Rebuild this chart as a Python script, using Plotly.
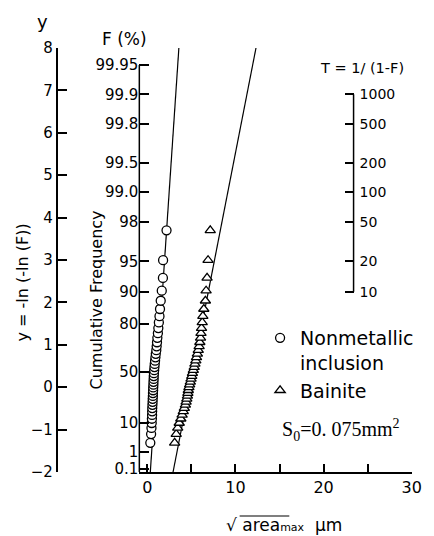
import numpy as np
import plotly.graph_objects as go

# ---------------- data ----------------
# cumulative frequency F (%) of each ranked point (same ranks for both series)
cum_freq_pct = [2.44, 4.88, 7.32, 9.76, 12.20, 14.63, 17.07, 19.51, 21.95, 24.39,
                26.83, 29.27, 31.71, 34.15, 36.59, 39.02, 41.46, 43.90, 46.34, 48.78,
                51.22, 53.66, 56.10, 58.54, 60.98, 63.41, 65.85, 68.29, 70.73, 73.17,
                75.61, 78.05, 80.49, 82.93, 85.37, 87.80, 90.24, 92.68, 95.12, 97.56]

# sqrt(area_max) in micrometres
inclusion_sqrt_area = [0.34, 0.43, 0.47, 0.50, 0.52, 0.54, 0.55, 0.56, 0.58, 0.60,
                       0.61, 0.63, 0.64, 0.66, 0.67, 0.69, 0.70, 0.72, 0.73, 0.75,
                       0.78, 0.81, 0.84, 0.88, 0.92, 0.96, 1.02, 1.06, 1.10, 1.14,
                       1.20, 1.25, 1.31, 1.38, 1.44, 1.52, 1.64, 1.77, 1.79, 2.18]
bainite_sqrt_area = [3.10, 3.28, 3.45, 3.62, 3.80, 3.95, 4.08, 4.20, 4.32, 4.40,
                     4.48, 4.55, 4.60, 4.65, 4.72, 4.80, 4.88, 4.96, 5.04, 5.12,
                     5.22, 5.32, 5.40, 5.50, 5.58, 5.68, 5.78, 5.88, 5.96, 6.04,
                     6.09, 6.15, 6.23, 6.30, 6.41, 6.59, 6.67, 6.78, 6.89, 7.14]

# fitted straight lines: x at reduced variate y = -2 and y = 8
fit_y_ends = [-2, 8]
inclusion_fit_x = [0.34, 3.58]
bainite_fit_x = [2.92, 12.33]

# axis ticks
y_ticks = [-2, -1, 0, 1, 2, 3, 4, 5, 6, 7, 8]
F_ticks_pct = [0.1, 1, 10, 50, 80, 90, 95, 98, 99.0, 99.5, 99.8, 99.9, 99.95]
F_tick_labels = ["0.1", "1", "10", "50", "80", "90", "95", "98", "99.0", "99.5",
                 "99.8", "99.9", "99.95"]
T_ticks = [10, 20, 50, 100, 200, 500, 1000]
T_tick_labels = ["10", "20", "50", "100", "200", "500", "1000"]
x_ticks = [0, 10, 20, 30]
x_minor_ticks = [5, 15, 25]


def gumbel(F):
    F = np.asarray(F, dtype=float)
    return -np.log(-np.log(F))


y_incl = gumbel(np.array(cum_freq_pct) / 100.0)
y_F_ticks = gumbel(np.array(F_ticks_pct) / 100.0)
y_T_ticks = gumbel(1.0 - 1.0 / np.array(T_ticks, dtype=float))

# ---------------- layout geometry ----------------
# the page body adds an 8 px margin, so the figure is drawn 8 px smaller
OFF = 8
W, H = 434 - OFF, 536 - OFF
PLOT_L, PLOT_R, PLOT_T, PLOT_B = 40, 422, 48, 472   # in window pixels
ML, MR = PLOT_L - OFF, W - (PLOT_R - OFF)
MT, MB = PLOT_T - OFF, H - (PLOT_B - OFF)
PW = PLOT_R - PLOT_L
PH = PLOT_B - PLOT_T


def px(xpix):
    return (xpix - PLOT_L) / PW


def py(ypix):
    return (PLOT_B - ypix) / PH


x_dom0 = px(142)
FONT = "DejaVu Sans"
BLK = "black"

fig = go.Figure()

fig.add_trace(go.Scatter(
    x=inclusion_fit_x, y=fit_y_ends, mode="lines",
    line=dict(color=BLK, width=1.2), showlegend=False, hoverinfo="skip"))
fig.add_trace(go.Scatter(
    x=bainite_fit_x, y=fit_y_ends, mode="lines",
    line=dict(color=BLK, width=1.2), showlegend=False, hoverinfo="skip"))

fig.add_trace(go.Scatter(
    x=inclusion_sqrt_area, y=y_incl, mode="markers", name="Nonmetallic<br>inclusion",
    marker=dict(symbol="circle", size=9, color="white",
                line=dict(color=BLK, width=1.3))))
fig.add_trace(go.Scatter(
    x=bainite_sqrt_area, y=y_incl, mode="markers", name="Bainite",
    marker=dict(symbol="triangle-up", size=9, color="white",
                line=dict(color=BLK, width=1.3))))

# empty traces so the extra axes are drawn
fig.add_trace(go.Scatter(x=[], y=[], yaxis="y2", showlegend=False, hoverinfo="skip"))
fig.add_trace(go.Scatter(x=[], y=[], yaxis="y3", showlegend=False, hoverinfo="skip"))

axis_common = dict(range=[-2, 8], showgrid=False, zeroline=False,
                   ticks="inside", tickcolor=BLK, tickwidth=1.5, fixedrange=True)

fig.update_layout(
    width=W, height=H,
    margin=dict(l=ML, r=MR, t=MT, b=MB),
    paper_bgcolor="white", plot_bgcolor="white",
    font=dict(family=FONT, color=BLK),
    xaxis=dict(domain=[x_dom0, 1], range=[-0.906, 30.03], showgrid=False, zeroline=False,
               showline=True, linecolor=BLK, linewidth=1.5,
               tickvals=x_ticks, ticks="inside", ticklen=8, tickwidth=1.5, tickcolor=BLK,
               tickfont=dict(size=16, family=FONT),
               minor=dict(tickvals=x_minor_ticks, ticks="inside", ticklen=8,
                          tickwidth=1.5, tickcolor=BLK),
               fixedrange=True),
    yaxis=dict(**axis_common, anchor="x", showline=False,
               tickvals=list(y_F_ticks), ticktext=F_tick_labels, ticklen=10,
               tickfont=dict(size=15, family=FONT)),
    yaxis2=dict(**axis_common, overlaying="y", anchor="free", position=px(57),
                side="left", showline=True, linecolor=BLK, linewidth=1.5,
                tickvals=y_ticks, ticklen=10, tickfont=dict(size=15, family=FONT)),
    yaxis3=dict(**axis_common, overlaying="y", anchor="free", position=px(362),
                side="right", showline=False,
                tickvals=list(y_T_ticks), ticktext=T_tick_labels, ticklen=9,
                ticklabelstandoff=5,
                tickfont=dict(size=14, family=FONT)),
    legend=dict(x=px(266), y=py(319), xanchor="left", yanchor="top",
                bgcolor="rgba(0,0,0,0)", font=dict(size=19, family=FONT),
                valign="top", itemwidth=30, tracegroupgap=4),
    showlegend=True,
)

# partial axis lines for the F and T scales
fig.add_shape(type="line", xref="paper", yref="y", x0=x_dom0, x1=x_dom0,
              y0=-2, y1=float(y_F_ticks[-1]), line=dict(color=BLK, width=1.5))
fig.add_shape(type="line", xref="paper", yref="y", x0=px(362), x1=px(362),
              y0=float(y_T_ticks[0]), y1=float(y_T_ticks[-1]), line=dict(color=BLK, width=1.5))

# overline of the square-root sign in the x title
fig.add_shape(type="line", xref="paper", yref="paper", x0=px(245), x1=px(296),
              y0=py(516), y1=py(516), line=dict(color=BLK, width=1.2))

ann = [
    dict(text="y", x=px(43), y=py(22), font=dict(size=18)),
    dict(text="F (%)", x=px(127), y=py(39), font=dict(size=17)),
    dict(text="T = 1/ (1-F)", x=px(371), y=py(68), font=dict(size=14.5)),
    dict(text="y = -ln (-ln (F))", x=px(22), y=py(282), textangle=-90, font=dict(size=16)),
    dict(text="Cumulative Frequency", x=px(97), y=py(300), textangle=-90, font=dict(size=16)),
    dict(text="S<sub>0</sub>=0. 075mm<sup>2</sup>", x=px(286), y=py(430), xanchor="left",
         font=dict(size=20, family="Liberation Serif")),
    dict(text="\u221a area<span style='font-size:11px'>max</span>  \u03bcm",
         x=px(291), y=py(525), font=dict(size=17)),
]
for a in ann:
    a.setdefault("xanchor", "center")
    a.update(xref="paper", yref="paper", showarrow=False, yanchor="middle")
    a["font"] = dict(family=a["font"].get("family", FONT), size=a["font"]["size"], color=BLK)
    fig.add_annotation(**a)

fig.write_html("out.html")
